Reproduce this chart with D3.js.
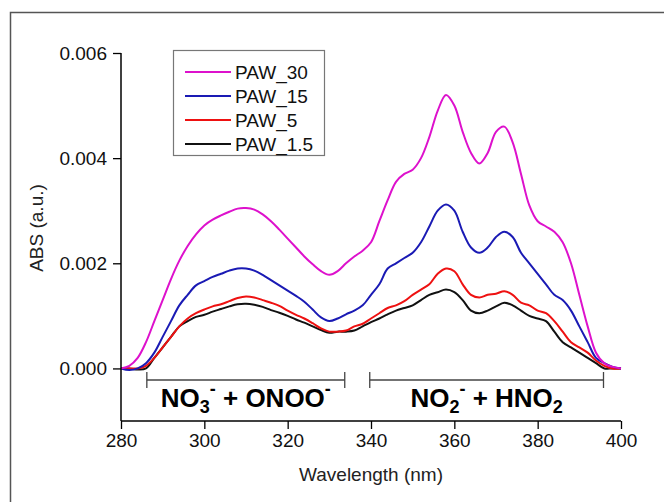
<!DOCTYPE html>
<html>
<head>
<meta charset="utf-8">
<script src="https://cdn.jsdelivr.net/npm/d3@7"></script>
<style>
  body { margin: 0; background: #fff; }
  svg { display: block; font-family: "Liberation Sans", Arial, sans-serif; }
</style>
</head>
<body>
<div id="chart"></div>
<script>
// wavelength grid (nm)
const wavelength = [280,282,284,286,288,290,292,294,296,298,300,302,304,306,308,310,312,314,316,318,320,322,324,326,328,330,332,334,336,338,340,342,344,346,348,350,352,354,356,358,360,362,364,366,368,370,372,374,376,378,380,382,384,386,388,390,392,394,396,398,400];

const paw30 = [0,0.00005,0.0002,0.0005,0.0009,0.0013,0.0017,0.00205,0.00233,0.00255,0.00272,0.00283,0.00291,0.00298,0.00304,0.00305,0.00302,0.00293,0.0028,0.00264,0.00247,0.0023,0.00213,0.00198,0.00185,0.00178,0.00185,0.002,0.00213,0.00224,0.0024,0.0028,0.0032,0.00355,0.0037,0.00378,0.004,0.0044,0.0049,0.0052,0.005,0.0045,0.0041,0.0039,0.0041,0.0045,0.0046,0.0043,0.0037,0.0031,0.0028,0.0027,0.0026,0.0024,0.002,0.0014,0.0008,0.0003,0.0001,0.00003,0];
const paw15 = [0,-0.00003,0,0.0001,0.0003,0.0006,0.0009,0.0012,0.0014,0.00158,0.00166,0.00174,0.0018,0.00186,0.0019,0.0019,0.00186,0.00178,0.00168,0.00158,0.00148,0.00138,0.00127,0.00112,0.00097,0.0009,0.00095,0.00103,0.0011,0.0012,0.0014,0.0016,0.0019,0.002,0.0021,0.0022,0.0024,0.0027,0.003,0.00312,0.003,0.0026,0.0023,0.0022,0.0023,0.0025,0.0026,0.0025,0.0022,0.002,0.0018,0.0016,0.0014,0.0013,0.0011,0.0008,0.0005,0.0002,0.0001,0.00003,0];
const paw5 = [0,0,0,0.00005,0.0002,0.0004,0.0006,0.0008,0.00095,0.00105,0.00112,0.00118,0.00122,0.00128,0.00134,0.00137,0.00135,0.0013,0.00125,0.00119,0.0011,0.00102,0.00095,0.00086,0.00076,0.0007,0.0007,0.00072,0.0008,0.00085,0.00095,0.00105,0.00115,0.0012,0.00128,0.0014,0.0015,0.0016,0.0018,0.0019,0.00185,0.0016,0.0014,0.00135,0.0014,0.00142,0.00147,0.0014,0.00125,0.0012,0.0011,0.00105,0.0009,0.0007,0.0005,0.0004,0.0003,0.00015,0.00005,0,0];
const paw1_5 = [0,0,-0.00002,0,0.0002,0.0004,0.0006,0.0008,0.0009,0.00098,0.00102,0.00108,0.00113,0.00118,0.00122,0.00123,0.00121,0.00117,0.00111,0.00106,0.001,0.00093,0.00087,0.0008,0.00073,0.00068,0.0007,0.0007,0.00072,0.0008,0.00088,0.00095,0.00103,0.0011,0.00115,0.0012,0.0013,0.0014,0.00145,0.0015,0.00145,0.0013,0.0011,0.00105,0.0011,0.00118,0.00125,0.0012,0.0011,0.001,0.00095,0.0009,0.0007,0.0005,0.0004,0.0003,0.0002,0.0001,0,0,0];

const seriesNames = ['PAW_30', 'PAW_15', 'PAW_5', 'PAW_1.5'];
const seriesValues = [paw30, paw15, paw5, paw1_5];
const seriesColors = ['#dd11cc', '#1a1ab4', '#ee1111', '#111111'];

const xTicks = [280, 300, 320, 340, 360, 380, 400];
const yTicks = [0, 0.002, 0.004, 0.006];

// wavelength ranges of the two bands
const bands = [
  {from: 286.2, to: 333.7, main: 'NO', sub: '3', rest: ' + ONOO'},
  {from: 339.7, to: 395.8, main: 'NO', sub: '2', rest: ' + HNO', tail: '2'}
];

const width = 664, height = 502;
const svg = d3.select('#chart').append('svg')
  .attr('width', width)
  .attr('height', height);

// outer frame
svg.append('rect')
  .attr('x', 10.5).attr('y', 12.5)
  .attr('width', 700).attr('height', 600)
  .attr('fill', 'none')
  .attr('stroke', '#555')
  .attr('stroke-width', 1.5);

const x = d3.scaleLinear().domain([280, 400]).range([121, 621]);
const y = d3.scaleLinear().domain([-0.001, 0.006]).range([421, 53]);

const line = d3.line()
  .x(d => x(d[0]))
  .y(d => y(d[1]))
  .curve(d3.curveCatmullRom.alpha(0.5));

const g = svg.append('g');

// curves, bottom series first
seriesValues.slice().reverse().forEach((vals, i) => {
  const k = seriesValues.length - 1 - i;
  g.append('path')
    .datum(wavelength.map((w, j) => [w, vals[j]]))
    .attr('d', line)
    .attr('fill', 'none')
    .attr('stroke', seriesColors[k])
    .attr('stroke-width', 2);
});

// axes
const xAxis = svg.append('g').attr('transform', `translate(0,${y(-0.001)})`);
xAxis.call(d3.axisBottom(x).tickValues(d3.range(290, 400, 20)).tickSize(5).tickFormat(''));
xAxis.call(d3.axisBottom(x).tickValues(xTicks).tickSize(8).tickPadding(5).tickFormat(d3.format('d')));
xAxis.selectAll('path.domain').remove();
xAxis.append('line')
  .attr('x1', x(280)).attr('x2', x(400))
  .attr('stroke', '#000').attr('stroke-width', 1.5);

const yAxis = svg.append('g').attr('transform', `translate(${x(280)},0)`);
yAxis.call(d3.axisLeft(y).tickValues([-0.001, 0.001, 0.003, 0.005]).tickSize(5).tickFormat(''));
yAxis.call(d3.axisLeft(y).tickValues(yTicks).tickSize(8).tickPadding(6).tickFormat(d3.format('.3f')));
yAxis.selectAll('path.domain').remove();
yAxis.append('line')
  .attr('y1', y(-0.001)).attr('y2', y(0.006))
  .attr('stroke', '#000').attr('stroke-width', 1.5);

svg.selectAll('.tick line').attr('stroke', '#000').attr('stroke-width', 1.3);
svg.selectAll('.tick text')
  .attr('fill', '#111')
  .style('font-size', '19px')
  .style('font-family', '"Liberation Sans", Arial, sans-serif');

// axis titles
svg.append('text')
  .attr('x', 371).attr('y', 481)
  .attr('text-anchor', 'middle')
  .style('font-size', '19px')
  .attr('fill', '#222')
  .text('Wavelength (nm)');

svg.append('text')
  .attr('transform', `translate(43,228) rotate(-90)`)
  .attr('text-anchor', 'middle')
  .style('font-size', '19px')
  .attr('fill', '#222')
  .text('ABS (a.u.)');

// band brackets
const bandY = y(-0.00022);
bands.forEach(b => {
  const bg = svg.append('g').attr('stroke', '#444').attr('stroke-width', 1.3);
  bg.append('line').attr('x1', x(b.from)).attr('x2', x(b.to)).attr('y1', bandY).attr('y2', bandY);
  bg.append('line').attr('x1', x(b.from)).attr('x2', x(b.from)).attr('y1', bandY - 8).attr('y2', bandY + 8);
  bg.append('line').attr('x1', x(b.to)).attr('x2', x(b.to)).attr('y1', bandY - 8).attr('y2', bandY + 8);

  const t = svg.append('text')
    .attr('x', x((b.from + b.to) / 2))
    .attr('y', y(-0.00074))
    .attr('text-anchor', 'middle')
    .style('font-size', '26px')
    .style('font-weight', 'bold')
    .attr('fill', '#000');
  t.append('tspan').text(b.main);
  t.append('tspan').attr('dy', 6).style('font-size', '18px').text(b.sub);
  t.append('tspan').attr('dy', -18).style('font-size', '18px').text('-');
  t.append('tspan').attr('dy', 12).text(b.rest);
  if (b.tail) {
    t.append('tspan').attr('dy', 6).style('font-size', '18px').text(b.tail);
  } else {
    t.append('tspan').attr('dy', -12).style('font-size', '18px').text('-');
  }
});

// legend
const legend = svg.append('g');
legend.append('rect')
  .attr('x', 173.5).attr('y', 50.5)
  .attr('width', 151).attr('height', 105)
  .attr('fill', '#fff')
  .attr('stroke', '#777')
  .attr('stroke-width', 1.2);
seriesNames.forEach((name, i) => {
  const ly = 72 + i * 24;
  legend.append('line')
    .attr('x1', 185).attr('x2', 231)
    .attr('y1', ly).attr('y2', ly)
    .attr('stroke', seriesColors[i])
    .attr('stroke-width', 2);
  legend.append('text')
    .attr('x', 235).attr('y', ly + 7)
    .style('font-size', '19px')
    .attr('fill', '#111')
    .text(name);
});
</script>
</body>
</html>
